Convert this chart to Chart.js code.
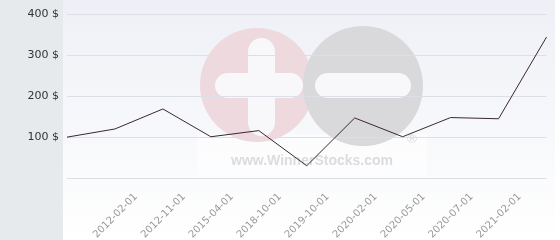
<!DOCTYPE html>
<html>
<head>
<meta charset="utf-8">
<script src="https://cdn.jsdelivr.net/npm/chart.js@4"></script>
<style>
  html, body { margin: 0; padding: 0; background: #fff; }
  #wrap { width: 560px; height: 240px; position: relative; }
</style>
</head>
<body>
<div id="wrap"><canvas id="canvas"></canvas></div>
<script>
var labels = ["", "2012-02-01", "2012-11-01", "2015-04-01", "2018-10-01", "2019-10-01",
              "2020-02-01", "2020-05-01", "2020-07-01", "2021-02-01", ""];
var prices = [100, 120, 169, 101, 116, 30, 147, 101, 148, 145, 345];
var yTicks = [0, 100, 200, 300, 400];

// background panel, gradient and faint logo
var backdrop = {
  id: 'backdrop',
  beforeDraw: function(chart) {
    var c = chart.ctx;
    c.save();
    c.fillStyle = '#fff';
    c.fillRect(0, 0, chart.width, chart.height);
    c.fillStyle = '#e6eaed';
    c.fillRect(0, 0, 63, chart.height);
    var g = c.createLinearGradient(0, 0, 0, chart.height);
    g.addColorStop(0, '#eef0f6');
    g.addColorStop(1, '#ffffff');
    c.fillStyle = g;
    c.fillRect(63, 0, 492, chart.height);

    c.fillStyle = 'rgba(255,255,255,0.55)';
    c.fillRect(197, 134, 230, 44);

    c.fillStyle = '#edd9de';
    c.beginPath(); c.arc(257, 85, 57, 0, Math.PI * 2); c.fill();
    c.fillStyle = '#d9d9db';
    c.beginPath(); c.arc(363, 86, 60, 0, Math.PI * 2); c.fill();

    c.fillStyle = '#f8f8fa';
    function bar(x, y, w, h) {
      var r = Math.min(w, h) / 2;
      c.beginPath();
      c.roundRect(x, y, w, h, r);
      c.fill();
    }
    bar(248, 38, 27, 98);
    bar(215, 73, 88, 25);
    bar(315, 73, 96, 25);

    c.fillStyle = '#dcdcde';
    c.font = 'bold 14px "Liberation Sans", Arial, sans-serif';
    c.textAlign = 'center';
    c.textBaseline = 'middle';
    c.fillText('www.WinnerStocks.com', 312, 161);
    c.font = '13px "DejaVu Sans", sans-serif';
    c.fillText('\u00ae', 412, 140);
    c.restore();
  }
};

new Chart(document.getElementById('canvas'), {
  type: 'line',
  data: {
    labels: labels,
    datasets: [{
      data: prices,
      borderColor: '#3b2632',
      borderWidth: 1,
      pointRadius: 0,
      tension: 0,
      fill: false
    }]
  },
  options: {
    responsive: true,
    maintainAspectRatio: false,
    animation: false,
    layout: { padding: { top: 12, right: 7, left: 0, bottom: 0 } },
    plugins: { legend: { display: false }, tooltip: { enabled: false } },
    scales: {
      x: {
        grid: { display: false },
        border: { display: false },
        afterFit: function(s) { s.height = 62; },
        ticks: {
          autoSkip: false,
          maxRotation: 45,
          minRotation: 45,
          padding: 5,
          labelOffset: 21,
          color: '#999',
          font: { family: 'DejaVu Sans', size: 10 }
        }
      },
      y: {
        min: 0,
        max: 400,
        afterFit: function(s) { s.width = 67; },
        afterBuildTicks: function(s) { s.ticks = yTicks.map(function(v) { return { value: v }; }); },
        border: { display: false },
        grid: { color: '#dcdfe5', drawTicks: false },
        ticks: {
          padding: 8,
          color: '#333',
          font: { family: 'DejaVu Sans', size: 11 },
          callback: function(v) { return v === 0 ? '' : v + ' $'; }
        }
      }
    }
  },
  plugins: [backdrop]
});
</script>
</body>
</html>
